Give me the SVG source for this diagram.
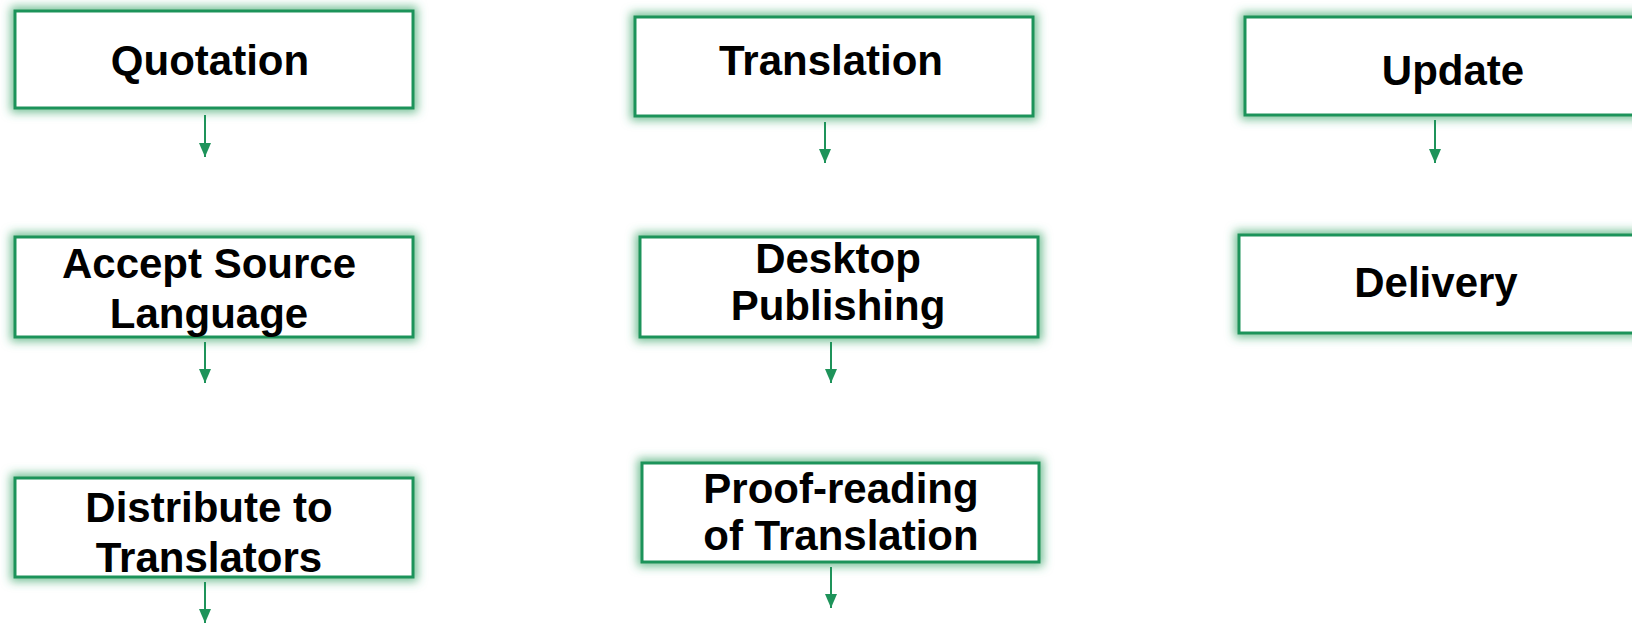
<svg xmlns="http://www.w3.org/2000/svg" width="1632" height="624" viewBox="0 0 1632 624">
<defs>
<filter id="glow" x="-10%" y="-30%" width="120%" height="160%">
<feMorphology in="SourceAlpha" operator="dilate" radius="3" result="d"/>
<feGaussianBlur in="d" stdDeviation="5" result="b"/>
<feFlood flood-color="#3aa56a" flood-opacity="0.7"/>
<feComposite in2="b" operator="in" result="g"/>
<feMerge><feMergeNode in="g"/><feMergeNode in="SourceGraphic"/></feMerge>
</filter>
<marker id="ah" markerWidth="14" markerHeight="12" refX="14" refY="6" orient="auto" markerUnits="userSpaceOnUse" viewBox="0 0 14 12">
<path d="M0,0 L14,6 L0,12 Z" fill="#1e935a"/>
</marker>
</defs>
<style>
.box{fill:#ffffff;stroke:#1e935a;stroke-width:3;filter:url(#glow)}
.t{font-family:"Liberation Sans",Arial,sans-serif;font-weight:bold;font-size:42px;fill:#000;text-anchor:middle}
.c{stroke:#1e935a;stroke-width:2;fill:none}
</style>
<rect width="1632" height="624" fill="#ffffff"/>
<g id="quotation">
<rect class="box" x="15" y="11" width="398" height="97"/>
<text class="t" x="210" y="75">Quotation</text>
</g>
<g id="accept">
<rect class="box" x="15" y="237" width="398" height="100"/>
<text class="t" x="209" y="278">Accept Source</text>
<text class="t" x="209" y="328">Language</text>
</g>
<g id="distribute">
<rect class="box" x="15" y="478" width="398" height="99"/>
<text class="t" x="209" y="522">Distribute to</text>
<text class="t" x="209" y="572">Translators</text>
</g>
<g id="translation">
<rect class="box" x="635" y="17" width="398" height="99"/>
<text class="t" x="831" y="75">Translation</text>
</g>
<g id="dtp">
<rect class="box" x="640" y="237" width="398" height="100"/>
<text class="t" x="838" y="273">Desktop</text>
<text class="t" x="838" y="320">Publishing</text>
</g>
<g id="proof">
<rect class="box" x="642" y="463" width="397" height="99"/>
<text class="t" x="841" y="503">Proof-reading</text>
<text class="t" x="841" y="550">of Translation</text>
</g>
<g id="update">
<rect class="box" x="1245" y="17" width="416" height="98"/>
<text class="t" x="1453" y="85">Update</text>
</g>
<g id="delivery">
<rect class="box" x="1239" y="235" width="416" height="98"/>
<text class="t" x="1436" y="297">Delivery</text>
</g>
<g id="connectors">
<line class="c" x1="205" y1="115" x2="205" y2="157" marker-end="url(#ah)"/>
<line class="c" x1="205" y1="342" x2="205" y2="383" marker-end="url(#ah)"/>
<line class="c" x1="205" y1="582" x2="205" y2="623" marker-end="url(#ah)"/>
<line class="c" x1="825" y1="122" x2="825" y2="163" marker-end="url(#ah)"/>
<line class="c" x1="831" y1="342" x2="831" y2="383" marker-end="url(#ah)"/>
<line class="c" x1="831" y1="567" x2="831" y2="608" marker-end="url(#ah)"/>
<line class="c" x1="1435" y1="120" x2="1435" y2="163" marker-end="url(#ah)"/>
</g>
</svg>
